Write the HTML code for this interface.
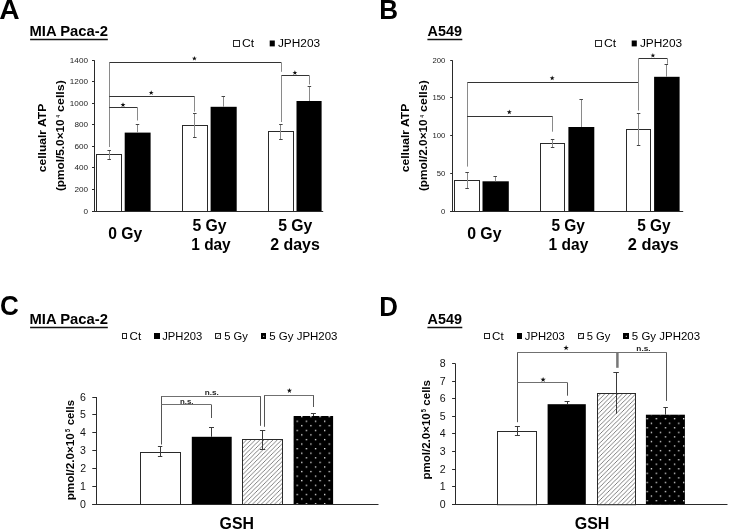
<!DOCTYPE html>
<html><head><meta charset="utf-8"><style>
html,body{margin:0;padding:0;background:#fff;width:729px;height:529px;overflow:hidden}
svg{display:block;will-change:transform}
text{font-family:"Liberation Sans", sans-serif}
</style></head><body>
<svg width="729" height="529" viewBox="0 0 729 529">
<defs><pattern id="hatch" patternUnits="userSpaceOnUse" width="4.4" height="4.4">
<rect width="4.4" height="4.4" fill="#fff"/>
<path d="M-1.1,1.1 L1.1,-1.1 M0,4.4 L4.4,0 M3.3,5.5 L5.5,3.3" stroke="#6a6a6a" stroke-width="0.85"/>
</pattern><pattern id="dots" patternUnits="userSpaceOnUse" width="9.15" height="9.15" x="296.55" y="420.6">
<rect x="0" y="0" width="1.3" height="1.3" fill="#eee"/>
<rect x="4.6" y="4.5" width="1.3" height="1.3" fill="#eee"/>
<rect x="4.6" y="-4.65" width="1.3" height="1.3" fill="#eee"/>
</pattern><pattern id="dotsD" patternUnits="userSpaceOnUse" width="9.1" height="9.1" x="646.55" y="418.05">
<rect x="0" y="0" width="1.3" height="1.3" fill="#eee"/>
<rect x="4.3" y="4.6" width="1.3" height="1.3" fill="#eee"/>
</pattern></defs>
<rect width="729" height="529" fill="#fff"/>
<text x="-0.71" y="18.6" font-size="27.3" font-weight="bold" textLength="20.37" lengthAdjust="spacingAndGlyphs" fill="#000" >A</text>
<text x="379.31" y="18.6" font-size="27.3" font-weight="bold" textLength="18.82" lengthAdjust="spacingAndGlyphs" fill="#000" >B</text>
<text x="0.06" y="314.9" font-size="27.5" font-weight="bold" textLength="18.85" lengthAdjust="spacingAndGlyphs" fill="#000" >C</text>
<text x="379.32" y="315.5" font-size="27.5" font-weight="bold" textLength="18.67" lengthAdjust="spacingAndGlyphs" fill="#000" >D</text>
<text x="29.54" y="35.9" font-size="15" font-weight="bold" textLength="78.41" lengthAdjust="spacingAndGlyphs" fill="#000" >MIA Paca-2</text>
<line x1="30.1" y1="39.5" x2="107.8" y2="39.5" stroke="#111" stroke-width="1.3"/>
<text x="427.54" y="35.9" font-size="15" font-weight="bold" textLength="34.37" lengthAdjust="spacingAndGlyphs" fill="#000" >A549</text>
<line x1="427.4" y1="39.5" x2="462.3" y2="39.5" stroke="#111" stroke-width="1.3"/>
<text x="29.54" y="323.7" font-size="15" font-weight="bold" textLength="78.41" lengthAdjust="spacingAndGlyphs" fill="#000" >MIA Paca-2</text>
<line x1="30.1" y1="327.5" x2="107.8" y2="327.5" stroke="#111" stroke-width="1.3"/>
<text x="427.54" y="323.7" font-size="15" font-weight="bold" textLength="34.37" lengthAdjust="spacingAndGlyphs" fill="#000" >A549</text>
<line x1="427.4" y1="327.5" x2="462.3" y2="327.5" stroke="#111" stroke-width="1.3"/>
<rect x="233.5" y="40.5" width="6" height="6" fill="#fff" stroke="#2a2a2a" stroke-width="1"/>
<text x="241.99" y="46.6" font-size="10" font-weight="normal" textLength="12.13" lengthAdjust="spacingAndGlyphs" fill="#000" >Ct</text>
<rect x="269.7" y="40.5" width="5.1" height="5.9" fill="#000"/>
<text x="277.92" y="46.6" font-size="10" font-weight="normal" textLength="42.18" lengthAdjust="spacingAndGlyphs" fill="#000" >JPH203</text>
<rect x="595.5" y="40.5" width="6" height="6" fill="#fff" stroke="#2a2a2a" stroke-width="1"/>
<text x="603.99" y="46.6" font-size="10" font-weight="normal" textLength="12.13" lengthAdjust="spacingAndGlyphs" fill="#000" >Ct</text>
<rect x="631.7" y="40.5" width="5.1" height="5.9" fill="#000"/>
<text x="639.92" y="46.6" font-size="10" font-weight="normal" textLength="42.18" lengthAdjust="spacingAndGlyphs" fill="#000" >JPH203</text>
<line x1="94.5" y1="60.3" x2="94.5" y2="211.5" stroke="#2a2a2a" stroke-width="1"/>
<line x1="92.2" y1="211.5" x2="323.2" y2="211.5" stroke="#2a2a2a" stroke-width="1"/>
<line x1="92" y1="211.5" x2="94.5" y2="211.5" stroke="#2a2a2a" stroke-width="1"/>
<text x="83.46" y="213.5" font-size="7.7" font-weight="normal" textLength="4.54" lengthAdjust="spacingAndGlyphs" fill="#222">0</text>
<line x1="92" y1="189.5" x2="94.5" y2="189.5" stroke="#2a2a2a" stroke-width="1"/>
<text x="74.4" y="191.97" font-size="7.7" font-weight="normal" textLength="13.62" lengthAdjust="spacingAndGlyphs" fill="#222">200</text>
<line x1="92" y1="167.5" x2="94.5" y2="167.5" stroke="#2a2a2a" stroke-width="1"/>
<text x="74.4" y="170.44" font-size="7.7" font-weight="normal" textLength="13.62" lengthAdjust="spacingAndGlyphs" fill="#222">400</text>
<line x1="92" y1="146.5" x2="94.5" y2="146.5" stroke="#2a2a2a" stroke-width="1"/>
<text x="74.4" y="148.91" font-size="7.7" font-weight="normal" textLength="13.62" lengthAdjust="spacingAndGlyphs" fill="#222">600</text>
<line x1="92" y1="124.5" x2="94.5" y2="124.5" stroke="#2a2a2a" stroke-width="1"/>
<text x="74.4" y="127.39" font-size="7.7" font-weight="normal" textLength="13.62" lengthAdjust="spacingAndGlyphs" fill="#222">800</text>
<line x1="92" y1="103.5" x2="94.5" y2="103.5" stroke="#2a2a2a" stroke-width="1"/>
<text x="69.83" y="105.86" font-size="7.7" font-weight="normal" textLength="18.16" lengthAdjust="spacingAndGlyphs" fill="#222">1000</text>
<line x1="92" y1="81.5" x2="94.5" y2="81.5" stroke="#2a2a2a" stroke-width="1"/>
<text x="69.83" y="84.33" font-size="7.7" font-weight="normal" textLength="18.16" lengthAdjust="spacingAndGlyphs" fill="#222">1200</text>
<line x1="92" y1="60.5" x2="94.5" y2="60.5" stroke="#2a2a2a" stroke-width="1"/>
<text x="69.83" y="62.8" font-size="7.7" font-weight="normal" textLength="18.16" lengthAdjust="spacingAndGlyphs" fill="#222">1400</text>
<rect x="96.5" y="154.5" width="25" height="57" fill="#fff" stroke="#2a2a2a" stroke-width="1"/>
<rect x="124.7" y="132.6" width="25.9" height="78.4" fill="#000"/>
<rect x="182.5" y="125.5" width="25" height="86" fill="#fff" stroke="#2a2a2a" stroke-width="1"/>
<rect x="210.6" y="106.8" width="26.1" height="104.2" fill="#000"/>
<rect x="268.5" y="131.5" width="25" height="80" fill="#fff" stroke="#2a2a2a" stroke-width="1"/>
<rect x="296.5" y="101" width="25.1" height="110" fill="#000"/>
<line x1="109.5" y1="150.6" x2="109.5" y2="159.3" stroke="#8a8a8a" stroke-width="1"/>
<line x1="107.45" y1="150.5" x2="110.95" y2="150.5" stroke="#444" stroke-width="1"/>
<line x1="107.45" y1="159.5" x2="110.95" y2="159.5" stroke="#444" stroke-width="1"/>
<line x1="137.5" y1="124" x2="137.5" y2="132.6" stroke="#8a8a8a" stroke-width="1"/>
<line x1="135.75" y1="124.5" x2="139.25" y2="124.5" stroke="#444" stroke-width="1"/>
<line x1="194.5" y1="113.4" x2="194.5" y2="137.2" stroke="#8a8a8a" stroke-width="1"/>
<line x1="193.05" y1="113.5" x2="196.55" y2="113.5" stroke="#444" stroke-width="1"/>
<line x1="193.05" y1="137.5" x2="196.55" y2="137.5" stroke="#444" stroke-width="1"/>
<line x1="223.5" y1="96.5" x2="223.5" y2="106.8" stroke="#8a8a8a" stroke-width="1"/>
<line x1="221.55" y1="96.5" x2="225.05" y2="96.5" stroke="#444" stroke-width="1"/>
<line x1="280.5" y1="124.3" x2="280.5" y2="139.2" stroke="#8a8a8a" stroke-width="1"/>
<line x1="279.15" y1="124.5" x2="282.65" y2="124.5" stroke="#444" stroke-width="1"/>
<line x1="279.15" y1="139.5" x2="282.65" y2="139.5" stroke="#444" stroke-width="1"/>
<line x1="309.5" y1="86.3" x2="309.5" y2="101" stroke="#8a8a8a" stroke-width="1"/>
<line x1="307.65" y1="86.5" x2="311.15" y2="86.5" stroke="#444" stroke-width="1"/>
<line x1="109.2" y1="62.5" x2="281.3" y2="62.5" stroke="#333" stroke-width="1"/>
<line x1="109.5" y1="62.4" x2="109.5" y2="147" stroke="#8a8a8a" stroke-width="1"/>
<line x1="281.5" y1="62.4" x2="281.5" y2="71.8" stroke="#8a8a8a" stroke-width="1"/>
<line x1="109.2" y1="96.5" x2="194.8" y2="96.5" stroke="#333" stroke-width="1"/>
<line x1="194.5" y1="96.3" x2="194.5" y2="111.7" stroke="#8a8a8a" stroke-width="1"/>
<line x1="109.2" y1="107.5" x2="137.5" y2="107.5" stroke="#333" stroke-width="1"/>
<line x1="137.5" y1="107.5" x2="137.5" y2="120.5" stroke="#8a8a8a" stroke-width="1"/>
<line x1="281.3" y1="75.5" x2="309.4" y2="75.5" stroke="#333" stroke-width="1"/>
<line x1="281.5" y1="75.5" x2="281.5" y2="122" stroke="#8a8a8a" stroke-width="1"/>
<line x1="309.5" y1="75.5" x2="309.5" y2="84.5" stroke="#8a8a8a" stroke-width="1"/>
<polygon points="194.4,55.9 195.01,57.66 196.87,57.7 195.39,58.82 195.93,60.6 194.4,59.54 192.87,60.6 193.41,58.82 191.93,57.7 193.79,57.66" fill="#111"/>
<polygon points="151.2,90.2 151.81,91.96 153.67,92 152.19,93.12 152.73,94.9 151.2,93.84 149.67,94.9 150.21,93.12 148.73,92 150.59,91.96" fill="#111"/>
<polygon points="123,102.3 123.61,104.06 125.47,104.1 123.99,105.22 124.53,107 123,105.94 121.47,107 122.01,105.22 120.53,104.1 122.39,104.06" fill="#111"/>
<polygon points="294.9,70.2 295.51,71.96 297.37,72 295.89,73.12 296.43,74.9 294.9,73.84 293.37,74.9 293.91,73.12 292.43,72 294.29,71.96" fill="#111"/>
<line x1="452.5" y1="60.3" x2="452.5" y2="211.5" stroke="#2a2a2a" stroke-width="1"/>
<line x1="450.2" y1="211.5" x2="683.2" y2="211.5" stroke="#2a2a2a" stroke-width="1"/>
<line x1="450.2" y1="211.5" x2="452.5" y2="211.5" stroke="#2a2a2a" stroke-width="1"/>
<text x="441.1" y="213.5" font-size="7.7" font-weight="normal" textLength="4.28" lengthAdjust="spacingAndGlyphs" fill="#222">0</text>
<line x1="450.2" y1="173.5" x2="452.5" y2="173.5" stroke="#2a2a2a" stroke-width="1"/>
<text x="436.82" y="175.82" font-size="7.7" font-weight="normal" textLength="8.57" lengthAdjust="spacingAndGlyphs" fill="#222">50</text>
<line x1="450.2" y1="135.5" x2="452.5" y2="135.5" stroke="#2a2a2a" stroke-width="1"/>
<text x="432.55" y="138.15" font-size="7.7" font-weight="normal" textLength="12.85" lengthAdjust="spacingAndGlyphs" fill="#222">100</text>
<line x1="450.2" y1="97.5" x2="452.5" y2="97.5" stroke="#2a2a2a" stroke-width="1"/>
<text x="432.55" y="100.48" font-size="7.7" font-weight="normal" textLength="12.85" lengthAdjust="spacingAndGlyphs" fill="#222">150</text>
<line x1="450.2" y1="60.5" x2="452.5" y2="60.5" stroke="#2a2a2a" stroke-width="1"/>
<text x="432.55" y="62.8" font-size="7.7" font-weight="normal" textLength="12.85" lengthAdjust="spacingAndGlyphs" fill="#222">200</text>
<rect x="454.5" y="180.5" width="25" height="31" fill="#fff" stroke="#2a2a2a" stroke-width="1"/>
<rect x="482.5" y="181.3" width="26.3" height="29.7" fill="#000"/>
<rect x="540.5" y="143.5" width="24" height="68" fill="#fff" stroke="#2a2a2a" stroke-width="1"/>
<rect x="568.4" y="127" width="25.9" height="84" fill="#000"/>
<rect x="626.5" y="129.5" width="24" height="82" fill="#fff" stroke="#2a2a2a" stroke-width="1"/>
<rect x="654.1" y="76.8" width="25.5" height="134.2" fill="#000"/>
<line x1="467.5" y1="172.4" x2="467.5" y2="188.5" stroke="#8a8a8a" stroke-width="1"/>
<line x1="465.35" y1="172.5" x2="468.85" y2="172.5" stroke="#444" stroke-width="1"/>
<line x1="465.35" y1="188.5" x2="468.85" y2="188.5" stroke="#444" stroke-width="1"/>
<line x1="495.5" y1="176.5" x2="495.5" y2="181.3" stroke="#8a8a8a" stroke-width="1"/>
<line x1="493.45" y1="176.5" x2="496.95" y2="176.5" stroke="#444" stroke-width="1"/>
<line x1="552.5" y1="139.5" x2="552.5" y2="147.7" stroke="#8a8a8a" stroke-width="1"/>
<line x1="550.85" y1="139.5" x2="554.35" y2="139.5" stroke="#444" stroke-width="1"/>
<line x1="550.85" y1="147.5" x2="554.35" y2="147.5" stroke="#444" stroke-width="1"/>
<line x1="581.5" y1="99.5" x2="581.5" y2="127" stroke="#8a8a8a" stroke-width="1"/>
<line x1="579.45" y1="99.5" x2="582.95" y2="99.5" stroke="#444" stroke-width="1"/>
<line x1="638.5" y1="113.6" x2="638.5" y2="145.2" stroke="#8a8a8a" stroke-width="1"/>
<line x1="636.85" y1="113.5" x2="640.35" y2="113.5" stroke="#444" stroke-width="1"/>
<line x1="636.85" y1="145.5" x2="640.35" y2="145.5" stroke="#444" stroke-width="1"/>
<line x1="666.5" y1="64.6" x2="666.5" y2="76.8" stroke="#8a8a8a" stroke-width="1"/>
<line x1="664.55" y1="64.5" x2="668.05" y2="64.5" stroke="#444" stroke-width="1"/>
<line x1="467.1" y1="82.5" x2="638.6" y2="82.5" stroke="#333" stroke-width="1"/>
<line x1="467.5" y1="82.4" x2="467.5" y2="166.6" stroke="#8a8a8a" stroke-width="1"/>
<line x1="638.6" y1="58.5" x2="667.4" y2="58.5" stroke="#333" stroke-width="1"/>
<line x1="638.5" y1="58.4" x2="638.5" y2="110.5" stroke="#8a8a8a" stroke-width="1"/>
<line x1="667.5" y1="58.4" x2="667.5" y2="63.8" stroke="#8a8a8a" stroke-width="1"/>
<line x1="467.1" y1="116.5" x2="552.8" y2="116.5" stroke="#333" stroke-width="1"/>
<line x1="552.5" y1="116.4" x2="552.5" y2="131.7" stroke="#8a8a8a" stroke-width="1"/>
<polygon points="552.2,75.6 552.81,77.36 554.67,77.4 553.19,78.52 553.73,80.3 552.2,79.24 550.67,80.3 551.21,78.52 549.73,77.4 551.59,77.36" fill="#111"/>
<polygon points="509.3,109.5 509.91,111.26 511.77,111.3 510.29,112.42 510.83,114.2 509.3,113.14 507.77,114.2 508.31,112.42 506.83,111.3 508.69,111.26" fill="#111"/>
<polygon points="652.9,52.9 653.51,54.66 655.37,54.7 653.89,55.82 654.43,57.6 652.9,56.54 651.37,57.6 651.91,55.82 650.43,54.7 652.29,54.66" fill="#111"/>
<text x="108.27" y="239.1" font-size="16" font-weight="bold" textLength="33.95" lengthAdjust="spacingAndGlyphs" fill="#000" >0 Gy</text>
<text x="192.43" y="230.6" font-size="16" font-weight="bold" textLength="34.2" lengthAdjust="spacingAndGlyphs" fill="#000" >5 Gy</text>
<text x="191.27" y="249.6" font-size="16" font-weight="bold" textLength="39.44" lengthAdjust="spacingAndGlyphs" fill="#000" >1 day</text>
<text x="278.13" y="230.6" font-size="16" font-weight="bold" textLength="34.2" lengthAdjust="spacingAndGlyphs" fill="#000" >5 Gy</text>
<text x="270.14" y="249.6" font-size="16" font-weight="bold" textLength="49.65" lengthAdjust="spacingAndGlyphs" fill="#000" >2 days</text>
<text x="467.17" y="239.1" font-size="16" font-weight="bold" textLength="34.36" lengthAdjust="spacingAndGlyphs" fill="#000" >0 Gy</text>
<text x="551.44" y="230.6" font-size="16" font-weight="bold" textLength="33.49" lengthAdjust="spacingAndGlyphs" fill="#000" >5 Gy</text>
<text x="548.57" y="249.6" font-size="16" font-weight="bold" textLength="39.74" lengthAdjust="spacingAndGlyphs" fill="#000" >1 day</text>
<text x="637.14" y="230.6" font-size="16" font-weight="bold" textLength="33.49" lengthAdjust="spacingAndGlyphs" fill="#000" >5 Gy</text>
<text x="627.73" y="249.6" font-size="16" font-weight="bold" textLength="50.98" lengthAdjust="spacingAndGlyphs" fill="#000" >2 days</text>
<text transform="translate(45.8,172.18) rotate(-90)" x="0" y="0" font-size="11" font-weight="bold" textLength="68.39" lengthAdjust="spacingAndGlyphs" fill="#000">cellualr ATP</text>
<text transform="translate(64,191.09) rotate(-90)" x="0" y="0" font-size="11.2" font-weight="bold" textLength="71.77" lengthAdjust="spacingAndGlyphs" fill="#000">(pmol/5.0×10</text>
<text transform="translate(60.4,117.56) rotate(-90)" x="0" y="0" font-size="5.6" font-weight="bold" textLength="2.39" lengthAdjust="spacingAndGlyphs" fill="#000">4</text>
<text transform="translate(64,111.9) rotate(-90)" x="0" y="0" font-size="11.2" font-weight="bold" textLength="31.68" lengthAdjust="spacingAndGlyphs" fill="#000">cells)</text>
<text transform="translate(408.6,172.18) rotate(-90)" x="0" y="0" font-size="11" font-weight="bold" textLength="68.39" lengthAdjust="spacingAndGlyphs" fill="#000">cellualr ATP</text>
<text transform="translate(427.2,191.09) rotate(-90)" x="0" y="0" font-size="11.2" font-weight="bold" textLength="71.77" lengthAdjust="spacingAndGlyphs" fill="#000">(pmol/2.0×10</text>
<text transform="translate(423.6,117.56) rotate(-90)" x="0" y="0" font-size="5.6" font-weight="bold" textLength="2.39" lengthAdjust="spacingAndGlyphs" fill="#000">4</text>
<text transform="translate(427.2,111.9) rotate(-90)" x="0" y="0" font-size="11.2" font-weight="bold" textLength="31.68" lengthAdjust="spacingAndGlyphs" fill="#000">cells)</text>
<rect x="122.5" y="333.5" width="4" height="5" fill="#fff" stroke="#222" stroke-width="1"/>
<text x="129.52" y="339.5" font-size="10.5" font-weight="normal" textLength="11.6" lengthAdjust="spacingAndGlyphs" fill="#000" >Ct</text>
<rect x="154" y="333" width="6" height="6" fill="#000"/>
<text x="162.23" y="339.5" font-size="10.5" font-weight="normal" textLength="39.95" lengthAdjust="spacingAndGlyphs" fill="#000" >JPH203</text>
<rect x="215.5" y="333.5" width="5" height="5" fill="url(#hatch)" stroke="#222" stroke-width="1"/>
<text x="224.15" y="339.5" font-size="10.5" font-weight="normal" textLength="23.67" lengthAdjust="spacingAndGlyphs" fill="#000" >5 Gy</text>
<rect x="261" y="333" width="5" height="6" fill="#000"/>
<rect x="263.2" y="335.8" width="1" height="1" fill="#fff"/>
<text x="269.24" y="339.5" font-size="10.5" font-weight="normal" textLength="68.24" lengthAdjust="spacingAndGlyphs" fill="#000" >5 Gy JPH203</text>
<rect x="484.5" y="333.5" width="5" height="5" fill="#fff" stroke="#222" stroke-width="1"/>
<text x="492.12" y="339.5" font-size="10.5" font-weight="normal" textLength="11.6" lengthAdjust="spacingAndGlyphs" fill="#000" >Ct</text>
<rect x="517" y="333" width="5" height="6" fill="#000"/>
<text x="524.83" y="339.5" font-size="10.5" font-weight="normal" textLength="39.95" lengthAdjust="spacingAndGlyphs" fill="#000" >JPH203</text>
<rect x="578.5" y="333.5" width="5" height="5" fill="url(#hatch)" stroke="#222" stroke-width="1"/>
<text x="586.75" y="339.5" font-size="10.5" font-weight="normal" textLength="23.67" lengthAdjust="spacingAndGlyphs" fill="#000" >5 Gy</text>
<rect x="623" y="333" width="6" height="6" fill="#000"/>
<rect x="625.8" y="335.8" width="1" height="1" fill="#fff"/>
<text x="631.84" y="339.5" font-size="10.5" font-weight="normal" textLength="68.24" lengthAdjust="spacingAndGlyphs" fill="#000" >5 Gy JPH203</text>
<line x1="96.5" y1="397" x2="96.5" y2="504.5" stroke="#2a2a2a" stroke-width="1"/>
<line x1="92.3" y1="504.5" x2="378.5" y2="504.5" stroke="#2a2a2a" stroke-width="1"/>
<line x1="92.3" y1="504.5" x2="96" y2="504.5" stroke="#2a2a2a" stroke-width="1"/>
<text x="80" y="507.6" font-size="10.8" font-weight="normal" textLength="5.89" lengthAdjust="spacingAndGlyphs" fill="#111">0</text>
<line x1="92.3" y1="486.5" x2="96" y2="486.5" stroke="#2a2a2a" stroke-width="1"/>
<text x="80.1" y="489.77" font-size="10.8" font-weight="normal" textLength="5.89" lengthAdjust="spacingAndGlyphs" fill="#111">1</text>
<line x1="92.3" y1="468.5" x2="96" y2="468.5" stroke="#2a2a2a" stroke-width="1"/>
<text x="80.16" y="471.93" font-size="10.8" font-weight="normal" textLength="5.89" lengthAdjust="spacingAndGlyphs" fill="#111">2</text>
<line x1="92.3" y1="450.5" x2="96" y2="450.5" stroke="#2a2a2a" stroke-width="1"/>
<text x="80.05" y="454.1" font-size="10.8" font-weight="normal" textLength="5.89" lengthAdjust="spacingAndGlyphs" fill="#111">3</text>
<line x1="92.3" y1="432.5" x2="96" y2="432.5" stroke="#2a2a2a" stroke-width="1"/>
<text x="79.94" y="436.27" font-size="10.8" font-weight="normal" textLength="5.89" lengthAdjust="spacingAndGlyphs" fill="#111">4</text>
<line x1="92.3" y1="414.5" x2="96" y2="414.5" stroke="#2a2a2a" stroke-width="1"/>
<text x="80.05" y="418.43" font-size="10.8" font-weight="normal" textLength="5.89" lengthAdjust="spacingAndGlyphs" fill="#111">5</text>
<line x1="92.3" y1="397.5" x2="96" y2="397.5" stroke="#2a2a2a" stroke-width="1"/>
<text x="80.05" y="400.6" font-size="10.8" font-weight="normal" textLength="5.89" lengthAdjust="spacingAndGlyphs" fill="#111">6</text>
<rect x="140.5" y="452.5" width="40" height="52" fill="#fff" stroke="#2a2a2a" stroke-width="1"/>
<rect x="191.8" y="436.8" width="39.9" height="67.2" fill="#000"/>
<rect x="242.5" y="439.5" width="40" height="65" fill="url(#hatch)" stroke="#2a2a2a" stroke-width="1"/>
<rect x="293.6" y="416" width="39.5" height="88" fill="#000"/>
<rect x="293.6" y="416" width="39.5" height="88" fill="url(#dots)"/>
<line x1="160.5" y1="446.6" x2="160.5" y2="456.4" stroke="#3a3a3a" stroke-width="1"/>
<line x1="157.9" y1="446.5" x2="162.3" y2="446.5" stroke="#3a3a3a" stroke-width="1"/>
<line x1="157.9" y1="456.5" x2="162.3" y2="456.5" stroke="#3a3a3a" stroke-width="1"/>
<line x1="211.5" y1="427.8" x2="211.5" y2="436.8" stroke="#3a3a3a" stroke-width="1"/>
<line x1="209" y1="427.5" x2="214" y2="427.5" stroke="#3a3a3a" stroke-width="1"/>
<line x1="262.5" y1="430.3" x2="262.5" y2="449.3" stroke="#3a3a3a" stroke-width="1"/>
<line x1="259.95" y1="430.5" x2="265.25" y2="430.5" stroke="#3a3a3a" stroke-width="1"/>
<line x1="259.95" y1="449.5" x2="265.25" y2="449.5" stroke="#3a3a3a" stroke-width="1"/>
<line x1="313.5" y1="413.9" x2="313.5" y2="416" stroke="#3a3a3a" stroke-width="1"/>
<line x1="310.9" y1="413.5" x2="315.9" y2="413.5" stroke="#3a3a3a" stroke-width="1"/>
<line x1="161.4" y1="396.5" x2="260.5" y2="396.5" stroke="#707070" stroke-width="1"/>
<line x1="161.5" y1="396.2" x2="161.5" y2="444.5" stroke="#555" stroke-width="1"/>
<line x1="260.5" y1="396.2" x2="260.5" y2="425.8" stroke="#555" stroke-width="1"/>
<line x1="161.4" y1="404.5" x2="211.5" y2="404.5" stroke="#707070" stroke-width="1"/>
<line x1="211.5" y1="404.8" x2="211.5" y2="418" stroke="#555" stroke-width="1"/>
<line x1="264.5" y1="395.5" x2="313.4" y2="395.5" stroke="#707070" stroke-width="1"/>
<line x1="264.5" y1="395.2" x2="264.5" y2="426.8" stroke="#555" stroke-width="1"/>
<line x1="313.5" y1="395.2" x2="313.5" y2="407" stroke="#555" stroke-width="1"/>
<polygon points="289.4,388 290.03,389.83 291.97,389.87 290.43,391.03 290.99,392.88 289.4,391.78 287.81,392.88 288.37,391.03 286.83,389.87 288.77,389.83" fill="#111"/>
<text x="179.99" y="403.6" font-size="8" font-weight="bold" textLength="13.54" lengthAdjust="spacingAndGlyphs" fill="#222" >n.s.</text>
<text x="204.67" y="394.8" font-size="8" font-weight="bold" textLength="14.08" lengthAdjust="spacingAndGlyphs" fill="#222" >n.s.</text>
<text x="219.57" y="529.1" font-size="17" font-weight="bold" textLength="34.4" lengthAdjust="spacingAndGlyphs" fill="#000" >GSH</text>
<text transform="translate(73.7,500.26) rotate(-90)" x="0" y="0" font-size="10.7" font-weight="bold" textLength="67.06" lengthAdjust="spacingAndGlyphs" fill="#000">pmol/2.0×10</text>
<text transform="translate(69.9,431.97) rotate(-90)" x="0" y="0" font-size="6.5" font-weight="bold" textLength="3.11" lengthAdjust="spacingAndGlyphs" fill="#000">5</text>
<text transform="translate(73.7,425.25) rotate(-90)" x="0" y="0" font-size="10.7" font-weight="bold" textLength="25.2" lengthAdjust="spacingAndGlyphs" fill="#000">cells</text>
<line x1="455.5" y1="363.5" x2="455.5" y2="504.7" stroke="#2a2a2a" stroke-width="1"/>
<line x1="452.1" y1="504.5" x2="727.5" y2="504.5" stroke="#2a2a2a" stroke-width="1"/>
<line x1="452.1" y1="504.5" x2="455.4" y2="504.5" stroke="#2a2a2a" stroke-width="1"/>
<text x="439.7" y="507.8" font-size="10.8" font-weight="normal" textLength="5.89" lengthAdjust="spacingAndGlyphs" fill="#111">0</text>
<line x1="452.1" y1="486.5" x2="455.4" y2="486.5" stroke="#2a2a2a" stroke-width="1"/>
<text x="439.8" y="490.21" font-size="10.8" font-weight="normal" textLength="5.89" lengthAdjust="spacingAndGlyphs" fill="#111">1</text>
<line x1="452.1" y1="469.5" x2="455.4" y2="469.5" stroke="#2a2a2a" stroke-width="1"/>
<text x="439.86" y="472.62" font-size="10.8" font-weight="normal" textLength="5.89" lengthAdjust="spacingAndGlyphs" fill="#111">2</text>
<line x1="452.1" y1="451.5" x2="455.4" y2="451.5" stroke="#2a2a2a" stroke-width="1"/>
<text x="439.75" y="455.04" font-size="10.8" font-weight="normal" textLength="5.89" lengthAdjust="spacingAndGlyphs" fill="#111">3</text>
<line x1="452.1" y1="433.5" x2="455.4" y2="433.5" stroke="#2a2a2a" stroke-width="1"/>
<text x="439.64" y="437.45" font-size="10.8" font-weight="normal" textLength="5.89" lengthAdjust="spacingAndGlyphs" fill="#111">4</text>
<line x1="452.1" y1="416.5" x2="455.4" y2="416.5" stroke="#2a2a2a" stroke-width="1"/>
<text x="439.75" y="419.86" font-size="10.8" font-weight="normal" textLength="5.89" lengthAdjust="spacingAndGlyphs" fill="#111">5</text>
<line x1="452.1" y1="398.5" x2="455.4" y2="398.5" stroke="#2a2a2a" stroke-width="1"/>
<text x="439.75" y="402.28" font-size="10.8" font-weight="normal" textLength="5.89" lengthAdjust="spacingAndGlyphs" fill="#111">6</text>
<line x1="452.1" y1="381.5" x2="455.4" y2="381.5" stroke="#2a2a2a" stroke-width="1"/>
<text x="439.86" y="384.69" font-size="10.8" font-weight="normal" textLength="5.89" lengthAdjust="spacingAndGlyphs" fill="#111">7</text>
<line x1="452.1" y1="363.5" x2="455.4" y2="363.5" stroke="#2a2a2a" stroke-width="1"/>
<text x="439.75" y="367.1" font-size="10.8" font-weight="normal" textLength="5.89" lengthAdjust="spacingAndGlyphs" fill="#111">8</text>
<rect x="497.5" y="431.5" width="39" height="73.2" fill="#fff" stroke="#2a2a2a" stroke-width="1"/>
<rect x="547.6" y="404.2" width="38.2" height="100" fill="#000"/>
<rect x="597.5" y="393.5" width="38" height="111.2" fill="url(#hatch)" stroke="#2a2a2a" stroke-width="1"/>
<rect x="645.9" y="414.7" width="39" height="89.5" fill="#000"/>
<rect x="645.9" y="414.7" width="39" height="89.5" fill="url(#dotsD)"/>
<line x1="517.5" y1="426.5" x2="517.5" y2="435.6" stroke="#3a3a3a" stroke-width="1"/>
<line x1="514.9" y1="426.5" x2="519.9" y2="426.5" stroke="#3a3a3a" stroke-width="1"/>
<line x1="514.9" y1="435.5" x2="519.9" y2="435.5" stroke="#3a3a3a" stroke-width="1"/>
<line x1="567.5" y1="401.6" x2="567.5" y2="404.2" stroke="#3a3a3a" stroke-width="1"/>
<line x1="564.6" y1="401.5" x2="569.6" y2="401.5" stroke="#3a3a3a" stroke-width="1"/>
<line x1="616.5" y1="372.7" x2="616.5" y2="413.7" stroke="#3a3a3a" stroke-width="1"/>
<line x1="613.35" y1="372.5" x2="618.85" y2="372.5" stroke="#3a3a3a" stroke-width="1"/>
<line x1="665.5" y1="407.4" x2="665.5" y2="414.7" stroke="#3a3a3a" stroke-width="1"/>
<line x1="663.35" y1="407.5" x2="667.85" y2="407.5" stroke="#3a3a3a" stroke-width="1"/>
<line x1="517.4" y1="352.5" x2="666.5" y2="352.5" stroke="#707070" stroke-width="1"/>
<line x1="517.5" y1="352.4" x2="517.5" y2="422.2" stroke="#555" stroke-width="1"/>
<line x1="666.5" y1="352.4" x2="666.5" y2="400.9" stroke="#555" stroke-width="1"/>
<line x1="617.4" y1="352.9" x2="617.4" y2="367.8" stroke="#777" stroke-width="2.5"/>
<line x1="517.4" y1="382.5" x2="567.3" y2="382.5" stroke="#707070" stroke-width="1"/>
<line x1="567.5" y1="382.5" x2="567.5" y2="395.7" stroke="#555" stroke-width="1"/>
<polygon points="566.1,345.1 566.76,346.99 568.76,347.03 567.17,348.25 567.75,350.17 566.1,349.02 564.45,350.17 565.03,348.25 563.44,347.03 565.44,346.99" fill="#111"/>
<polygon points="543.1,376.9 543.76,378.79 545.76,378.83 544.17,380.05 544.75,381.97 543.1,380.82 541.45,381.97 542.03,380.05 540.44,378.83 542.44,378.79" fill="#111"/>
<text x="636.36" y="351" font-size="8" font-weight="bold" textLength="14.3" lengthAdjust="spacingAndGlyphs" fill="#222" >n.s.</text>
<text x="574.76" y="529.1" font-size="17" font-weight="bold" textLength="34.61" lengthAdjust="spacingAndGlyphs" fill="#000" >GSH</text>
<text transform="translate(429.8,479.55) rotate(-90)" x="0" y="0" font-size="10.7" font-weight="bold" textLength="66.35" lengthAdjust="spacingAndGlyphs" fill="#000">pmol/2.0×10</text>
<text transform="translate(426.2,412.27) rotate(-90)" x="0" y="0" font-size="6.5" font-weight="bold" textLength="3.23" lengthAdjust="spacingAndGlyphs" fill="#000">5</text>
<text transform="translate(429.8,405.66) rotate(-90)" x="0" y="0" font-size="10.7" font-weight="bold" textLength="25.61" lengthAdjust="spacingAndGlyphs" fill="#000">cells</text>
</svg></body></html>
